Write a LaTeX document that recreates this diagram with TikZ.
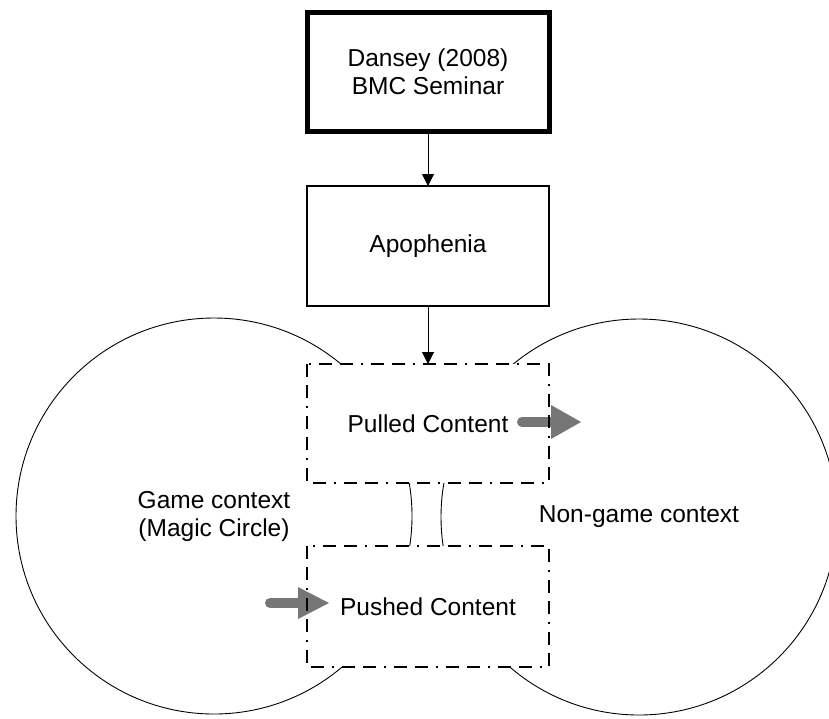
\documentclass[tikz,border=0pt]{standalone}
\usepackage{fontspec}
\setmainfont{Liberation Sans}
\usetikzlibrary{arrows.meta}
\definecolor{blockgray}{RGB}{118,118,118}
\tikzset{
  lbl/.style={font=\fontsize{24.5}{28}\selectfont, align=center},
  srcbox/.style={lbl, draw, line width=5pt, minimum width=242pt, minimum height=119pt, inner sep=0pt, outer sep=0pt},
  plainbox/.style={lbl, draw, line width=1.4pt, minimum width=242pt, minimum height=120pt, inner sep=0pt, outer sep=0pt},
  contentbox/.style={lbl, fill=white, minimum width=242pt, inner sep=0pt, outer sep=0pt},
  dashdot/.style={line width=1.8pt, dash pattern=on 13pt off 8pt on 13pt off 8pt on 2pt off 8pt},
  region/.style={lbl, circle, draw, line width=0.9pt, minimum size=396pt, inner sep=0pt},
  flow/.style={line width=1pt, -{Triangle[length=12pt,width=12pt]}},
  shaft/.style={blockgray, line width=10pt, line cap=round},
  head/.style={fill=blockgray}
}
\begin{document}
\begin{tikzpicture}[x=1pt,y=-1pt]
\useasboundingbox (0,0) rectangle (829,718);
\begin{scope}
\clip (0,0) rectangle (829,718);

% the two contexts
\node[region] (game) at (214,516) {Game context\\(Magic Circle)};
\node[region] (nongame) at (639,517) {Non-game context};

% source and concept boxes
\node[srcbox] (src) at (428,71.5) {Dansey (2008)\\BMC Seminar};
\node[plainbox] (apo) at (428,246) {Apophenia};

% content boxes (white ground; outlines drawn after the block arrows)
\node[contentbox, minimum height=119pt] (pulled) at (428,423.5) {Pulled Content};
\node[contentbox, minimum height=121pt] (pushed) at (428,606.5) {Pushed Content};

% block arrows
\coordinate (pullA) at (522,422);
\coordinate (pullB) at (551,422);
\coordinate (pullT) at (581,422);
\draw[shaft] (pullA) -- (pullB);
\fill[head] ([yshift=-17pt]pullB) -- (pullT) -- ([yshift=17pt]pullB) -- cycle;

\coordinate (pushA) at (270,603);
\coordinate (pushB) at (298,603);
\coordinate (pushT) at (329,603);
\draw[shaft] (pushA) -- (pushB);
\fill[head] ([yshift=-16pt]pushB) -- (pushT) -- ([yshift=16pt]pushB) -- cycle;

% dash-dot outlines of the content boxes
\draw[dashdot] (pulled.north west) rectangle (pulled.south east);
\draw[dashdot] (pushed.north west) rectangle (pushed.south east);

% flow
\draw[flow] (src.south) -- (apo.north);
\draw[flow] (apo.south) -- (pulled.north);
\end{scope}
\end{tikzpicture}
\end{document}
